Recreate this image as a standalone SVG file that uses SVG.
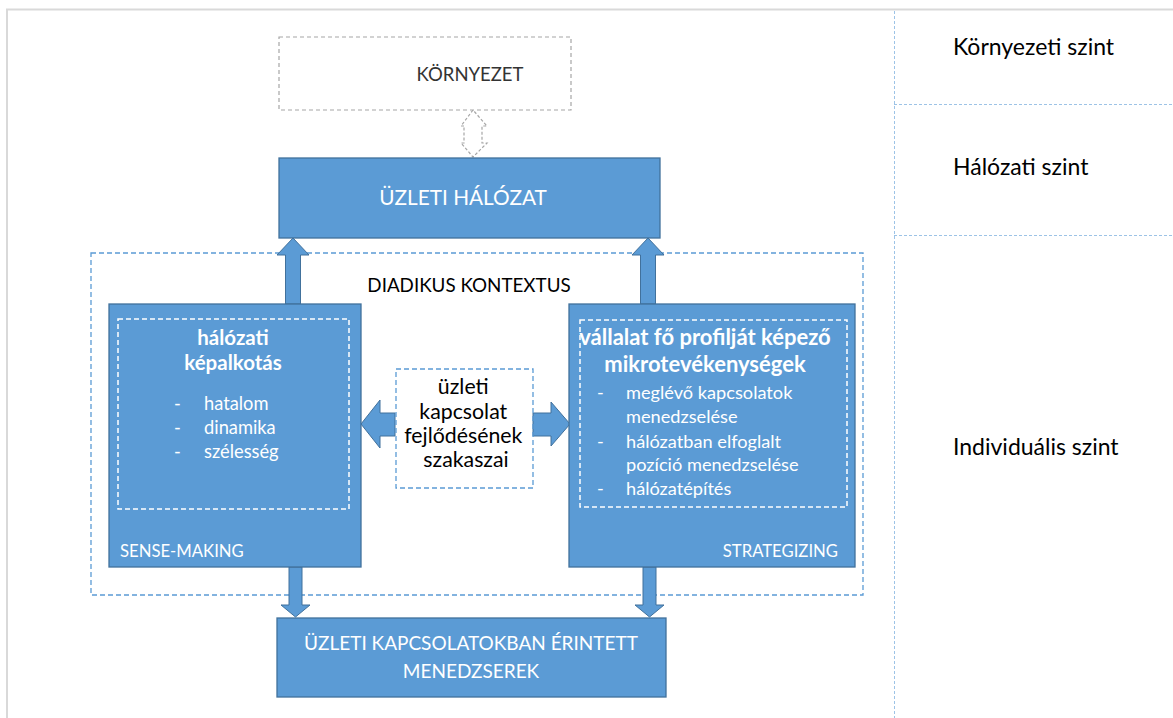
<svg xmlns="http://www.w3.org/2000/svg" width="1173" height="718" viewBox="0 0 1173 718">
<style>
.box{fill:#5b9bd5;stroke:#41719c;stroke-width:1.3}
.arr{fill:#5b9bd5;stroke:#41719c;stroke-width:1}
.inner{fill:none;stroke:#fff;stroke-width:1.5;stroke-dasharray:5,3}
.bdash{fill:none;stroke:#5b9bd5;stroke-width:1.3;stroke-dasharray:5,3}
.lvl{fill:none;stroke:#9dc3e6;stroke-width:1;stroke-dasharray:3,2}
text{font-family:Lato,"Open Sans","Liberation Sans",sans-serif}
.w{fill:#fff}
.k{fill:#000}
.c{text-anchor:middle}
</style>
<rect width="1173" height="718" fill="#fff"/>
<g id="frame">
<line x1="6" y1="9.5" x2="1173" y2="9.5" stroke="#d9d9d9" stroke-width="2"/>
<line x1="7" y1="9" x2="7" y2="718" stroke="#d9d9d9" stroke-width="2"/>
</g>
<g id="levels">
<line class="lvl" x1="894.5" y1="11" x2="894.5" y2="718"/>
<line class="lvl" x1="894" y1="104.5" x2="1173" y2="104.5"/>
<line class="lvl" x1="894" y1="235.5" x2="1173" y2="235.5"/>
<text x="953" y="55" font-size="23" class="k">Környezeti szint</text>
<text x="953" y="175" font-size="23" class="k">Hálózati szint</text>
<text x="953" y="455" font-size="23" class="k">Individuális szint</text>
</g>
<g id="diadikus">
<rect class="bdash" x="91" y="253" width="772" height="342"/>
<text x="469" y="292" font-size="18.8" class="k c">DIADIKUS KONTEXTUS</text>
</g>
<g id="connectors">
<path d="M464,126 L461,126 L473,110 L487,126 L482,126 L482,143 L487,143 L473,157 L461,143 L464,143 Z" fill="#fff" stroke="#a6a6a6" stroke-width="1.2" stroke-dasharray="3,2"/>
<path class="arr" d="M285.5,304 L285.5,255 L277,255 L293,238 L309,255 L300.5,255 L300.5,304 Z"/>
<path class="arr" d="M640.5,304 L640.5,255 L632,255 L648,238 L664,255 L655.5,255 L655.5,304 Z"/>
<path class="arr" d="M289,567 L289,605 L281,605 L295.5,617 L310,605 L302,605 L302,567 Z"/>
<path class="arr" d="M643,567 L643,605 L635,605 L649.5,617 L664,605 L656,605 L656,567 Z"/>
<path class="arr" d="M395,413 L380,413 L380,400 L361,424 L380,448 L380,436 L395,436 Z"/>
<path class="arr" d="M533,413 L551,413 L551,402 L570,424 L551,446 L551,436 L533,436 Z"/>
</g>
<g id="kornyezet">
<rect x="279" y="37" width="292" height="73" fill="#fff" stroke="#a6a6a6" stroke-width="1.2" stroke-dasharray="4,3"/>
<text x="470" y="81" font-size="18.5" fill="#333" class="c">KÖRNYEZET</text>
</g>
<g id="uzleti-halozat">
<rect class="box" x="279" y="158" width="381" height="80"/>
<text x="463" y="205" font-size="20.8" class="w c">ÜZLETI HÁLÓZAT</text>
</g>
<g id="sense-making">
<rect class="box" x="109" y="304" width="252" height="263"/>
<rect class="inner" x="118" y="319" width="231" height="190"/>
<text x="233" y="345" font-size="20.5" font-weight="bold" class="w c">hálózati</text>
<text x="233" y="370" font-size="20.5" font-weight="bold" class="w c">képalkotás</text>
<text font-size="18.3" class="w">
<tspan x="174" y="410">-</tspan><tspan x="204" y="410">hatalom</tspan>
<tspan x="174" y="434">-</tspan><tspan x="204" y="434">dinamika</tspan>
<tspan x="174" y="458">-</tspan><tspan x="204" y="458">szélesség</tspan>
</text>
<text x="120" y="557" font-size="16.7" class="w">SENSE-MAKING</text>
</g>
<g id="szakaszai">
<rect class="bdash" x="396" y="369" width="137" height="119" fill="#fff"/>
<text font-size="21.3" class="k c">
<tspan x="466" y="394">üzleti</tspan>
<tspan x="466" y="419">kapcsolat</tspan>
<tspan x="466" y="443">fejlődésének</tspan>
<tspan x="466" y="467">szakaszai</tspan>
</text>
</g>
<g id="strategizing">
<rect class="box" x="569" y="304" width="286" height="263"/>
<rect class="inner" x="580" y="320" width="267" height="187"/>
<text x="705" y="345" font-size="22" font-weight="bold" class="w c">vállalat fő profilját képező</text>
<text x="705" y="372" font-size="22" font-weight="bold" class="w c">mikrotevékenységek</text>
<text font-size="18.2" class="w">
<tspan x="597" y="399">-</tspan><tspan x="626" y="399">meglévő kapcsolatok</tspan>
<tspan x="626" y="423">menedzselése</tspan>
<tspan x="597" y="448">-</tspan><tspan x="626" y="448">hálózatban elfoglalt</tspan>
<tspan x="626" y="471">pozíció menedzselése</tspan>
<tspan x="597" y="495">-</tspan><tspan x="626" y="495">hálózatépítés</tspan>
</text>
<text x="838" y="557" font-size="16.7" class="w" text-anchor="end">STRATEGIZING</text>
</g>
<g id="menedzserek">
<rect class="box" x="277" y="618" width="389" height="79"/>
<text x="471" y="650" font-size="19" class="w c">ÜZLETI KAPCSOLATOKBAN ÉRINTETT</text>
<text x="471" y="678" font-size="19" class="w c">MENEDZSEREK</text>
</g>
</svg>
